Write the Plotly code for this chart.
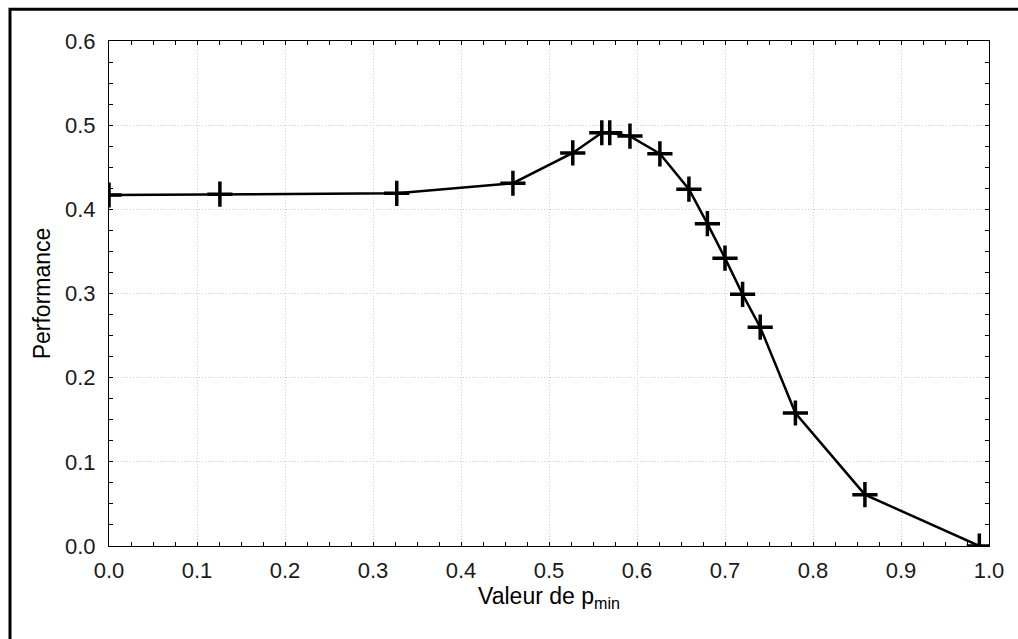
import plotly.graph_objects as go

# Performance as a function of the p_min threshold
p_min = [0.0, 0.126, 0.327, 0.459, 0.527, 0.560, 0.569, 0.592, 0.626,
         0.659, 0.680, 0.700, 0.720, 0.740, 0.780, 0.859, 0.989]
performance = [0.417, 0.418, 0.419, 0.431, 0.467, 0.491, 0.491, 0.487, 0.466,
               0.424, 0.383, 0.342, 0.299, 0.260, 0.158, 0.061, 0.0]

x_ticks = [0.0, 0.1, 0.2, 0.3, 0.4, 0.5, 0.6, 0.7, 0.8, 0.9, 1.0]
y_ticks = [0.0, 0.1, 0.2, 0.3, 0.4, 0.5, 0.6]

FONT = "Liberation Sans, Arial, sans-serif"

fig = go.Figure()
fig.add_trace(go.Scatter(
    x=p_min, y=performance,
    mode="lines+markers",
    line=dict(color="black", width=2.5),
    marker=dict(symbol="cross-thin", size=18,
                line=dict(color="black", width=3.5)),
    showlegend=False,
))

axis_common = dict(
    showline=True, linecolor="black", linewidth=1,
    mirror="ticks", ticks="inside", ticklen=4, tickcolor="black",
    showgrid=True, gridcolor="#cfcfcf", griddash="1px,2px", gridwidth=1,
    zeroline=False,
    tickfont=dict(family=FONT, size=22, color="#1a1a1a"),
    minor=dict(dtick=0.025, ticks="inside", ticklen=4,
               tickcolor="black", showgrid=False),
)

fig.update_xaxes(
    range=[0, 1], tickvals=x_ticks,
    ticktext=[f"{v:.1f}" for v in x_ticks],
    ticklabelstandoff=5,
    title=dict(text="Valeur de p<sub>min</sub>", standoff=2,
               font=dict(family=FONT, size=23, color="black")),
    **axis_common,
)
fig.update_yaxes(
    range=[0, 0.6], tickvals=y_ticks,
    ticktext=[f"{v:.1f}" for v in y_ticks],
    ticklabelstandoff=8,
    title=dict(text="Performance", standoff=7,
               font=dict(family=FONT, size=23, color="black")),
    **axis_common,
)

# Outer frame around the figure
fig.add_shape(type="rect", xref="paper", yref="paper",
              x0=-0.1125, x1=1.05, y0=-0.22, y1=1.063,
              line=dict(color="black", width=3), fillcolor="rgba(0,0,0,0)",
              layer="above")

fig.update_layout(
    width=1018, height=639,
    margin=dict(l=109, r=29, t=41, b=93),
    paper_bgcolor="white", plot_bgcolor="white",
    font=dict(family=FONT),
)

fig.write_html("out.html")
